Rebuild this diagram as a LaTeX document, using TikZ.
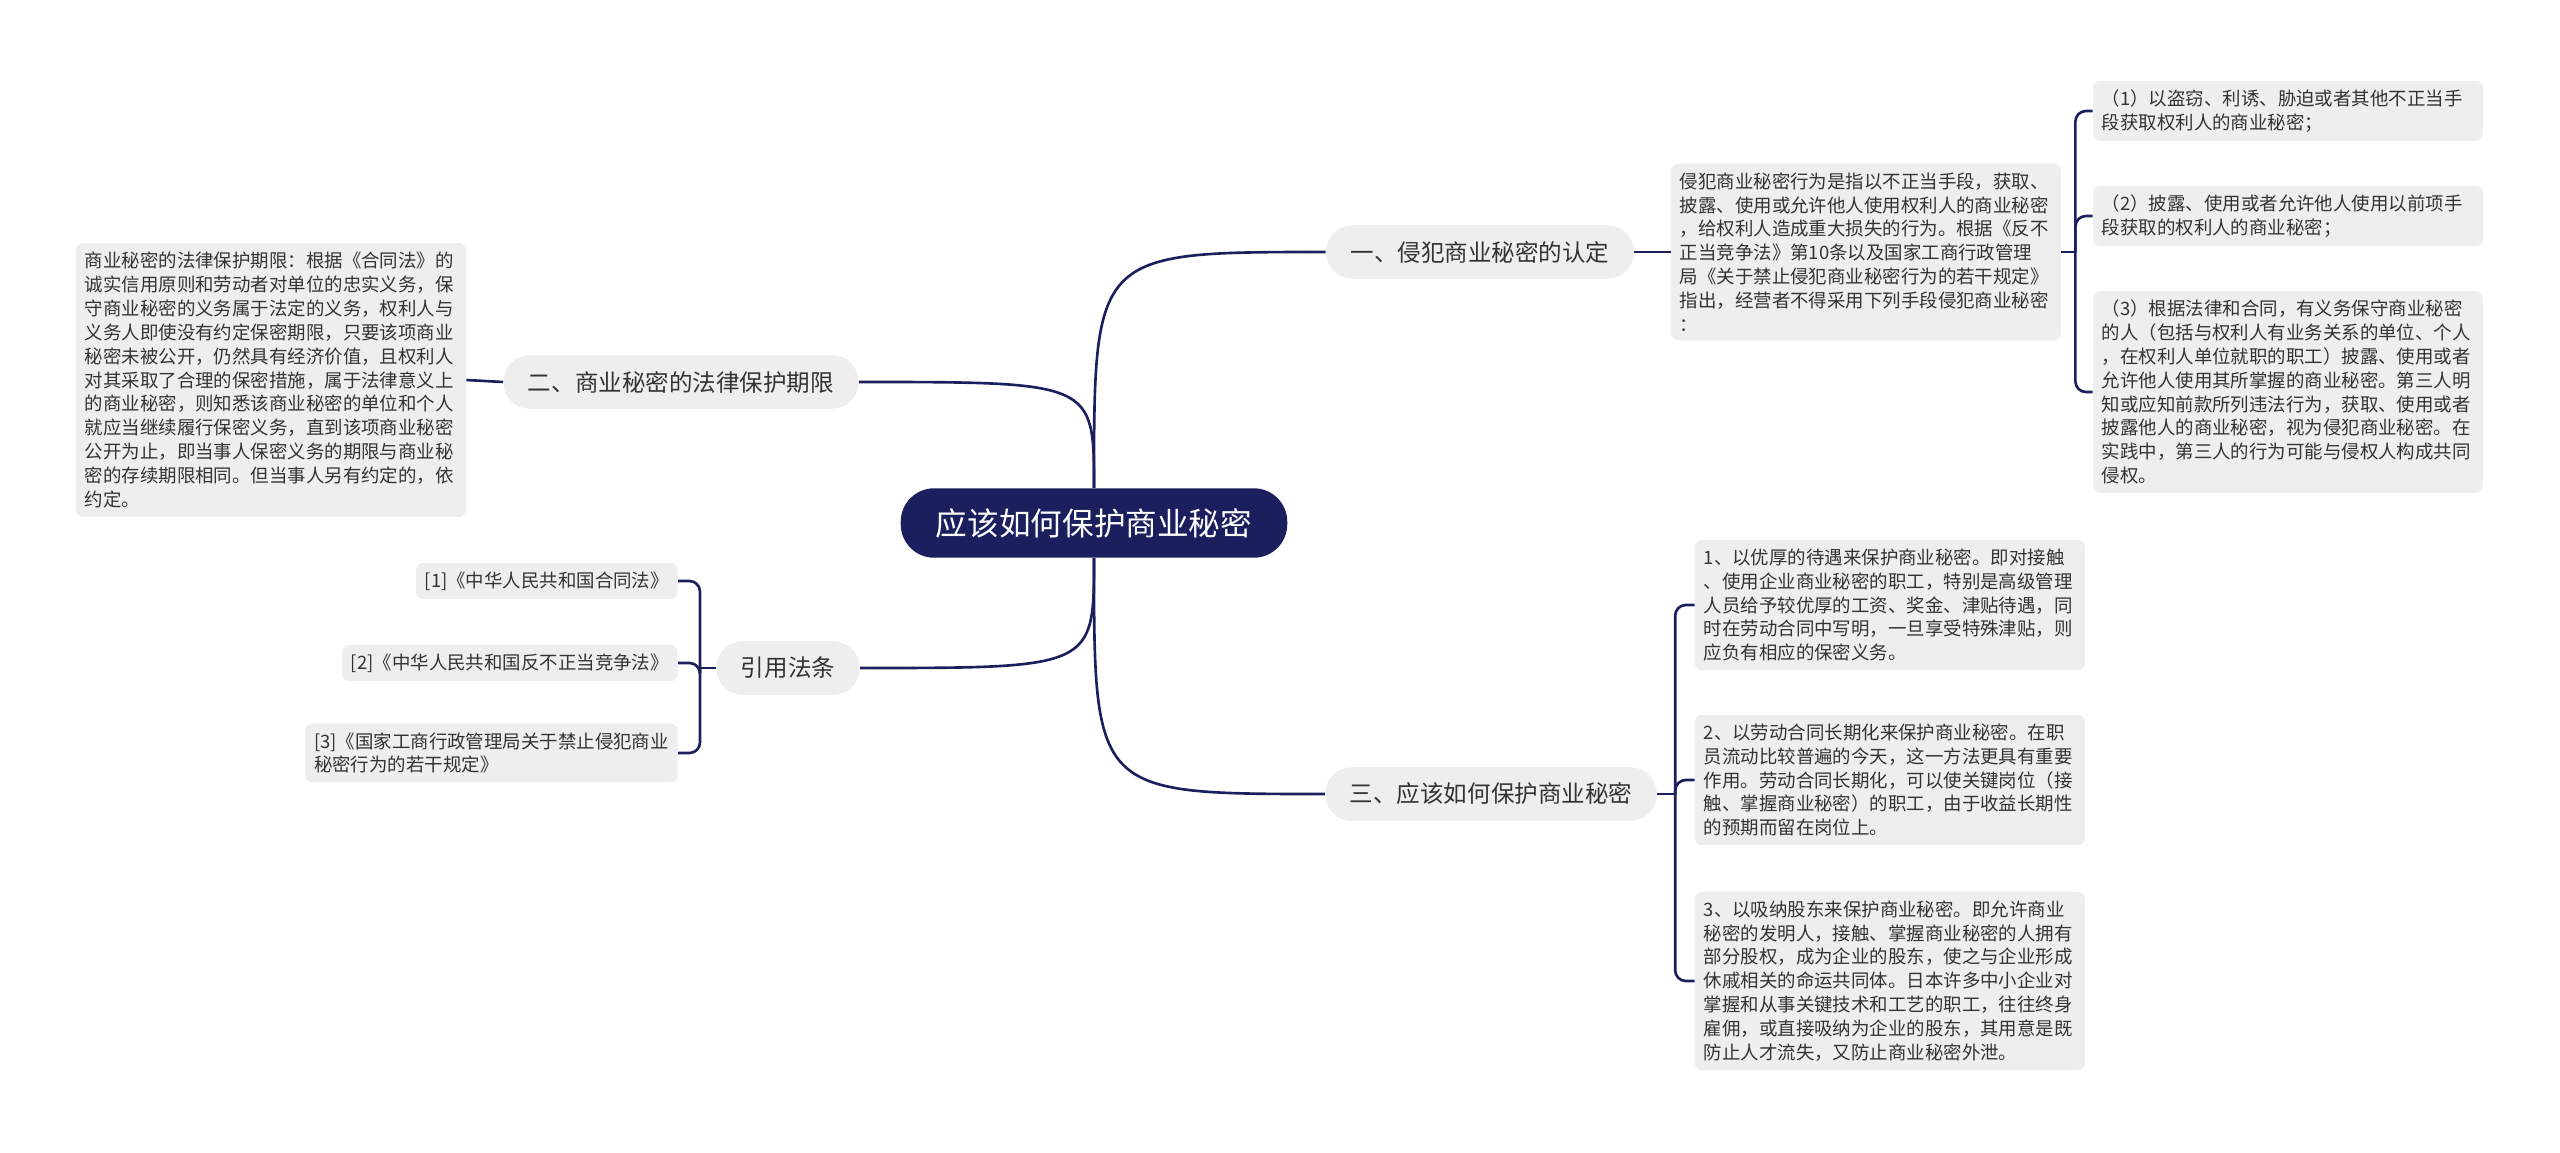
\documentclass[tikz,border=0pt]{standalone}
\usepackage{fontspec}
\newfontfamily\cjk{Noto Sans CJK SC}
\usetikzlibrary{positioning}
\definecolor{navy}{HTML}{1B1F5E}
\definecolor{leafgray}{HTML}{EEEEEE}
\definecolor{inkgray}{HTML}{333333}

\begin{document}
\begin{tikzpicture}[x=0.02cm,y=-0.02cm,
  font=\cjk\fontsize{10.5}{13.6}\selectfont,
  root/.style={fill=navy,text=white,rounded corners=19pt,
    minimum height=39.5pt,inner xsep=20pt,
    font=\cjk\fontsize{18}{22}\selectfont},
  topic/.style={fill=leafgray,text=inkgray,rounded corners=15pt,
    minimum height=30.5pt,inner xsep=14pt,
    font=\cjk\fontsize{13.4}{16}\selectfont},
  leaf/.style={fill=leafgray,text=inkgray,rounded corners=4pt,
    align=left,inner xsep=5pt,inner ysep=5pt},
  wide/.style={leaf,text width=212pt},
  link/.style={draw=navy,line width=1.5pt},
  brace/.style={link,rounded corners=6pt}]
\useasboundingbox (0,0) rectangle (2560,1153);

\node[root] (root) at (1094,523) {应该如何保护商业秘密};
\node[topic] (b1) at (1480,252) {一、侵犯商业秘密的认定};
\node[topic] (b2) at (681,382) {二、商业秘密的法律保护期限};
\node[topic] (b3) at (1491,794) {三、应该如何保护商业秘密};
\node[topic] (b4) at (788,668) {引用法条};

\node[wide] (l1) at (1866,252) {侵犯商业秘密行为是指以不正当手段，获取、\\
披露、使用或允许他人使用权利人的商业秘密\\
，给权利人造成重大损失的行为。根据《反不\\
正当竞争法》第10条以及国家工商行政管理\\
局《关于禁止侵犯商业秘密行为的若干规定》\\
指出，经营者不得采用下列手段侵犯商业秘密\\
：};
\node[wide] (s1) at (2288,111) {（1）以盗窃、利诱、胁迫或者其他不正当手\\
段获取权利人的商业秘密；};
\node[wide] (s2) at (2288,216) {（2）披露、使用或者允许他人使用以前项手\\
段获取的权利人的商业秘密；};
\node[wide] (s3) at (2288,392) {（3）根据法律和合同，有义务保守商业秘密\\
的人（包括与权利人有业务关系的单位、个人\\
，在权利人单位就职的职工）披露、使用或者\\
允许他人使用其所掌握的商业秘密。第三人明\\
知或应知前款所列违法行为，获取、使用或者\\
披露他人的商业秘密，视为侵犯商业秘密。在\\
实践中，第三人的行为可能与侵权人构成共同\\
侵权。};

\node[wide] (l2) at (271,380) {商业秘密的法律保护期限：根据《合同法》的\\
诚实信用原则和劳动者对单位的忠实义务，保\\
守商业秘密的义务属于法定的义务，权利人与\\
义务人即使没有约定保密期限，只要该项商业\\
秘密未被公开，仍然具有经济价值，且权利人\\
对其采取了合理的保密措施，属于法律意义上\\
的商业秘密，则知悉该商业秘密的单位和个人\\
就应当继续履行保密义务，直到该项商业秘密\\
公开为止，即当事人保密义务的期限与商业秘\\
密的存续期限相同。但当事人另有约定的，依\\
约定。};

\node[wide] (t1) at (1890,605) {1、以优厚的待遇来保护商业秘密。即对接触\\
、使用企业商业秘密的职工，特别是高级管理\\
人员给予较优厚的工资、奖金、津贴待遇，同\\
时在劳动合同中写明，一旦享受特殊津贴，则\\
应负有相应的保密义务。};
\node[wide] (t2) at (1890,780) {2、以劳动合同长期化来保护商业秘密。在职\\
员流动比较普遍的今天，这一方法更具有重要\\
作用。劳动合同长期化，可以使关键岗位（接\\
触、掌握商业秘密）的职工，由于收益长期性\\
的预期而留在岗位上。};
\node[wide] (t3) at (1890,981) {3、以吸纳股东来保护商业秘密。即允许商业\\
秘密的发明人，接触、掌握商业秘密的人拥有\\
部分股权，成为企业的股东，使之与企业形成\\
休戚相关的命运共同体。日本许多中小企业对\\
掌握和从事关键技术和工艺的职工，往往终身\\
雇佣，或直接吸纳为企业的股东，其用意是既\\
防止人才流失，又防止商业秘密外泄。};

\node[leaf,anchor=east] (r1) at (678,581) {[1]《中华人民共和国合同法》};
\node[leaf,anchor=east] (r2) at (678,663) {[2]《中华人民共和国反不正当竞争法》};
\node[leaf,anchor=east] (r3) at (678,753) {[3]《国家工商行政管理局关于禁止侵犯商业\\
秘密行为的若干规定》};

% root to topics
\draw[link] (root.north) .. controls (root.north |- b1.west) .. (b1.west);
\draw[link] (root.north) .. controls (root.north |- b2.east) .. (b2.east);
\draw[link] (root.south) .. controls (root.south |- b3.west) .. (b3.west);
\draw[link] (root.south) .. controls (root.south |- b4.east) .. (b4.east);

\draw[link] (b1.east)--(l1.west);
\draw[link] (b2.west)--(l2.east);

% brackets
\path (l1.east) ++(14,0) coordinate (j1);
\draw[link] (l1.east)--(j1);
\draw[brace] (j1)|-(s1.west);
\draw[brace] (j1)|-(s2.west);
\draw[brace] (j1)|-(s3.west);

\path (b3.east) ++(18,0) coordinate (j3);
\draw[link] (b3.east)--(j3);
\draw[brace] (j3)|-(t1.west);
\draw[brace] (j3)|-(t2.west);
\draw[brace] (j3)|-(t3.west);

\path (b4.west) ++(-16,0) coordinate (j4);
\draw[link] (b4.west)--(j4);
\draw[brace] (j4)|-(r1.east);
\draw[brace] (j4)|-(r2.east);
\draw[brace] (j4)|-(r3.east);
\end{tikzpicture}
\end{document}
